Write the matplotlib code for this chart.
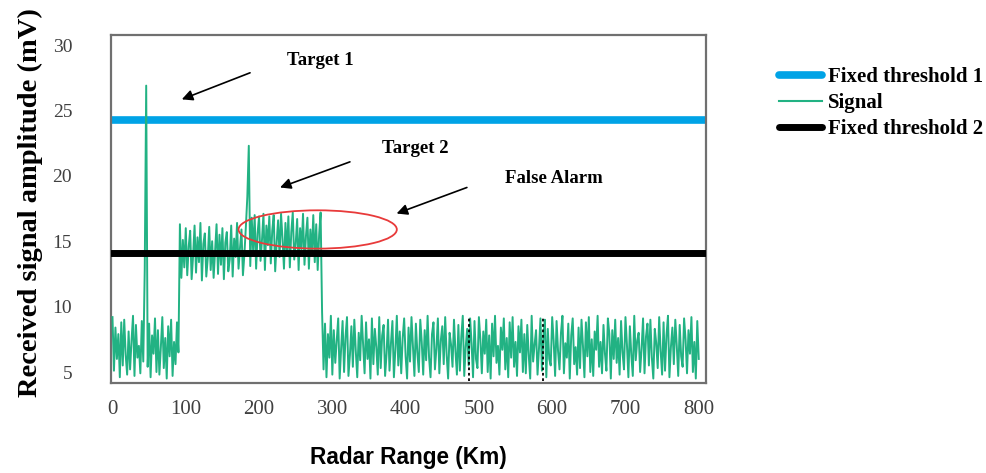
import numpy as np
import matplotlib
matplotlib.use("Agg")
import matplotlib.pyplot as plt
from matplotlib.patches import Ellipse
from matplotlib.lines import Line2D

STEP_KM = 2
noise_start = [9.2, 5.1, 8.4, 6.0, 7.9, 4.6, 8.8, 5.5, 9.0, 6.3, 4.8, 8.1, 5.2, 7.4,
               9.3, 4.7, 8.6, 6.1, 7.0, 4.9, 8.9, 5.8]
target1 = [12.8, 26.9, 5.4]
noise_mid = [8.7, 4.6, 7.8, 6.4, 9.1, 5.0, 8.2, 4.8, 6.9, 9.2, 5.3, 7.6, 4.5, 8.5,
             6.2, 9.0, 4.7, 7.3, 5.6, 8.8, 6.5]
plateau_a = [16.3, 12.2, 15.1, 13.0, 16.0, 12.4, 14.6, 15.8, 12.1, 13.9,
             16.2, 12.6, 15.3, 13.4, 16.4, 12.0, 14.8, 15.6, 12.3, 13.7,
             16.1, 12.8, 15.0, 12.2, 14.3, 16.3, 12.5, 15.5, 13.2, 16.0,
             12.1, 14.9, 15.7, 12.7, 13.6, 16.2, 12.3, 15.2, 13.8, 16.4,
             12.9, 14.5, 15.9, 12.4, 14.0, 16.1]
target2 = [18.4, 22.3]
plateau_b = [13.1, 16.8, 14.2, 17.0, 12.9, 15.6, 16.9, 13.5, 15.1, 17.1,
             12.8, 16.2, 14.7, 16.9, 13.3, 15.8, 17.0, 12.7, 14.9, 16.6,
             13.8, 17.1, 15.2, 12.9, 16.4, 14.1, 16.9, 13.0, 15.7, 17.2,
             13.6, 14.8, 16.7, 12.8, 16.0, 14.4, 17.1, 13.2, 15.4, 16.8,
             12.9, 15.9, 14.0, 17.0, 13.4, 16.3, 12.8, 15.5, 17.2]
noise_end = [9.6, 5.2, 8.7, 4.6, 7.9, 6.1, 9.3, 4.8, 8.2, 5.7,
             7.4, 9.1, 4.5, 6.8, 8.9, 5.0, 7.7, 9.2, 4.7, 6.3,
             8.5, 5.4, 9.0, 6.6, 4.6, 8.0, 5.9, 9.3, 7.1, 4.9,
             8.8, 6.0, 7.5, 4.5, 9.1, 5.6, 8.3, 6.9, 4.8, 9.2,
             5.3, 7.8, 8.6, 4.7, 6.4, 9.0, 5.1, 7.2, 8.9, 4.6,
             6.7, 9.3, 5.5, 8.1, 4.9, 7.6, 9.1, 6.2, 4.5, 8.4,
             5.8, 9.2, 7.0, 4.7, 8.7, 6.5, 5.0, 9.0, 7.3, 4.8,
             8.2, 5.9, 9.3, 6.1, 4.6, 7.9, 8.8, 5.2, 6.8, 9.1,
             4.9, 7.4, 8.5, 5.6, 9.2, 6.3, 4.5, 8.0, 7.1, 5.4,
             9.0, 6.6, 4.8, 8.6, 5.1, 7.7, 9.3, 4.7, 6.9, 8.3,
             5.5, 9.1, 7.2, 4.6, 8.9, 6.0, 5.3, 9.2, 7.5, 4.9,
             8.1, 6.4, 9.0, 5.0, 7.8, 4.5, 8.7, 6.2, 9.3, 5.7,
             7.0, 4.8, 8.4, 6.7, 9.1, 5.2, 7.6, 4.6, 8.8, 6.1,
             9.2, 5.4, 7.3, 4.7, 8.5, 6.5, 9.0, 5.0, 7.9, 4.9,
             8.6, 6.3, 4.5, 9.3, 5.8, 7.1, 8.2, 4.8, 6.8, 9.1,
             5.1, 7.7, 9.0, 4.6, 8.3, 6.0, 5.5, 9.2, 7.4, 4.7,
             8.9, 6.6, 5.2, 8.0, 9.3, 4.9, 7.2, 6.1, 8.7, 4.5,
             7.8, 9.1, 5.6, 6.9, 4.8, 8.4, 5.3, 9.0, 7.0, 4.6,
             8.8, 6.2, 9.2, 5.0, 7.5, 4.7, 8.1, 6.7, 9.3, 5.4,
             7.3, 4.9, 8.6, 6.4, 5.1, 9.1, 7.9, 4.5, 8.2, 6.0,
             9.0, 5.7, 7.6, 4.8, 8.9, 6.5, 5.2, 9.2, 7.1, 4.6,
             8.5, 6.3, 4.7, 9.3, 5.9, 7.4, 8.0, 5.0, 6.8, 9.1,
             4.9, 7.7, 8.7, 5.5, 9.0, 6.1, 4.5, 8.3, 7.2, 5.3,
             9.2, 6.6, 4.8, 8.8, 5.1, 7.8, 9.3, 4.6, 6.9, 8.4,
             5.6, 9.0, 7.0, 4.7, 8.6, 6.2, 5.4, 9.1, 7.5, 4.9,
             8.2, 6.4, 9.2, 5.0, 7.3, 4.5, 8.9, 6.0]

threshold1 = 24.3
threshold2 = 14.1
marker_km = [487, 588]          # dotted vertical markers in the noise
xtick_values = [0, 100, 200, 300, 400, 500, 600, 700, 800]
ytick_values = [5, 10, 15, 20, 25, 30]

signal = np.array(noise_start + target1 + noise_mid + plateau_a + target2
                  + plateau_b + noise_end)
range_km = np.arange(len(signal)) * STEP_KM

fig = plt.figure(figsize=(9.86, 4.73), dpi=100)
ax = fig.add_axes([0.1126, 0.190, 0.6035, 0.736])

ax.axhline(threshold1, color="#00a3e6", lw=5.5, solid_capstyle="round", zorder=2)
ax.plot(range_km, signal, color="#22b283", lw=1.4, zorder=3)
ax.axhline(threshold2, color="black", lw=5.0, solid_capstyle="round", zorder=4)
ax.vlines(marker_km, 4.3, 9.3, colors="black", linestyles=(0, (1.5, 1.5)), lw=1.3, zorder=5)

ax.set_xlim(-2, 810)
ax.set_ylim(4.15, 30.77)
ax.set_xticks(xtick_values)
ax.set_yticks(ytick_values)
ax.tick_params(length=0)
ax.tick_params(axis="y", pad=28, labelsize=14, labelcolor="#404040")
ax.tick_params(axis="x", pad=12, labelsize=15, labelcolor="#404040")
for lab in ax.get_xticklabels() + ax.get_yticklabels():
    lab.set_family("Liberation Serif")
for sp in ax.spines.values():
    sp.set_color("#707070")
    sp.set_linewidth(1.6)

ax.set_xlabel("Radar Range (Km)", family="Liberation Sans", weight="bold", fontsize=16.3)
ax.xaxis.label.set_va("center")
ax.xaxis.set_label_coords(0.5, -0.2126)
ax.set_ylabel("Received signal amplitude (mV)", family="Liberation Serif",
              weight="bold", fontsize=20.5)
ax.yaxis.label.set_va("center")
ax.yaxis.set_label_coords(-0.136, 0.52)

# False alarm region
ax.add_patch(Ellipse((280, 15.9), 216, 2.93, fill=False, ec="#e83a3a", lw=1.3, zorder=6))

# Annotations
arrow = dict(arrowstyle="-|>", color="black", lw=1.2, mutation_scale=16, shrinkA=0, shrinkB=0)
ax.annotate("", xy=(94.6, 25.85), xytext=(187.7, 27.88), arrowprops=arrow)
ax.annotate("", xy=(228.6, 19.11), xytext=(324, 21.07), arrowprops=arrow)
ax.annotate("", xy=(387.7, 17.12), xytext=(483.6, 19.11), arrowprops=arrow)
txt = dict(ha="center", va="center", family="Liberation Serif", weight="bold", fontsize=13.5)
ax.text(283, 28.8, "Target 1", **txt)
ax.text(412.7, 22.12, "Target 2", **txt)
ax.text(602, 19.82, "False Alarm", **txt)

handles = [Line2D([], [], color="#00a3e6", lw=5.5, solid_capstyle="round"),
           Line2D([], [], color="#22b283", lw=1.5),
           Line2D([], [], color="black", lw=5.0, solid_capstyle="round")]
fig.legend(handles, ["Fixed threshold 1", "Signal", "Fixed threshold 2"],
           loc="center left", bbox_to_anchor=(779 / 986, (473 - 103) / 473),
           frameon=False, borderpad=0, borderaxespad=0, handlelength=2.05,
           handletextpad=0.3, labelspacing=0.28,
           prop=dict(family="Liberation Serif", weight="bold", size=15))

fig.savefig("out.png", dpi=100)
